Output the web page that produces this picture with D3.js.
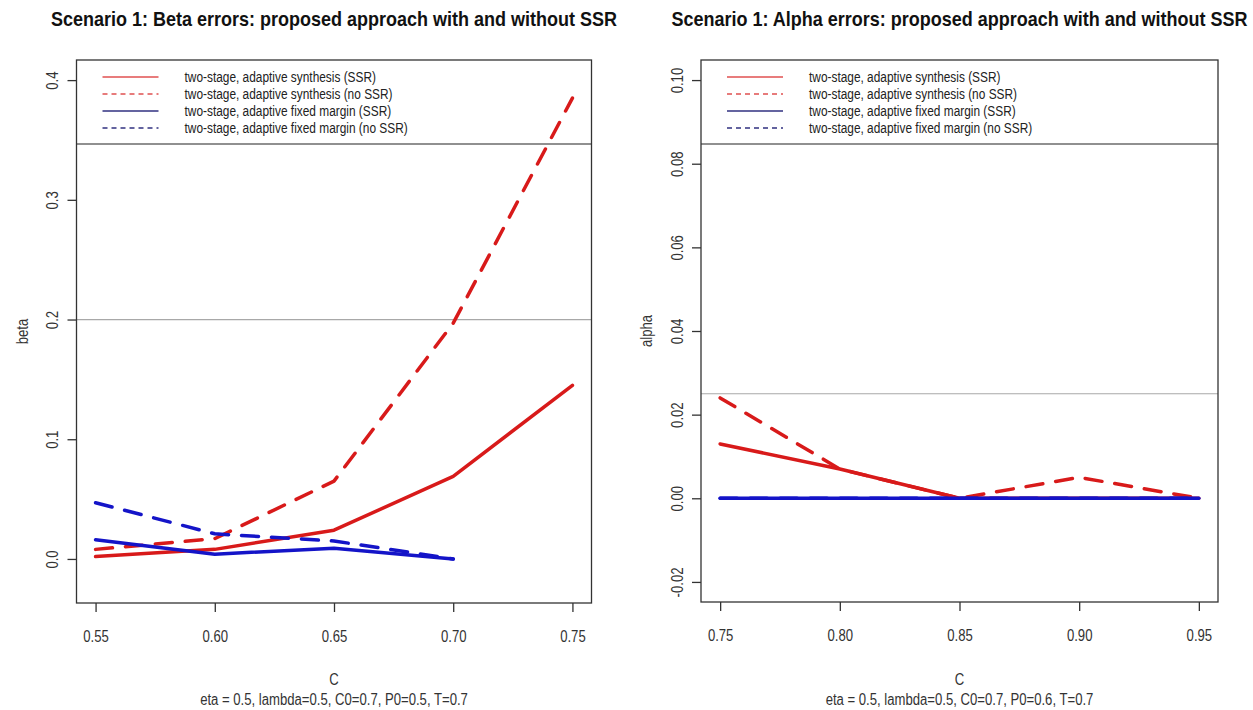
<!DOCTYPE html>
<html>
<head>
<meta charset="utf-8">
<script src="https://cdn.jsdelivr.net/npm/d3@7"></script>
<style>
  body { margin: 0; background: #fff; }
  svg text { font-family: "Liberation Sans", Arial, sans-serif; }
</style>
</head>
<body>
<svg id="chart" width="1253" height="710"></svg>
<script>
// ---- data ----
const betaC = [0.55, 0.60, 0.65, 0.70, 0.75]
const betaSynthSSR = [0.002, 0.008, 0.024, 0.069, 0.145]
const betaSynthNoSSR = [0.008, 0.017, 0.065, 0.197, 0.385]
const betaFixedSSR = [0.016, 0.004, 0.009, 0.000, null]
const betaFixedNoSSR = [0.047, 0.021, 0.015, 0.000, null]
const betaTicks = [0.0, 0.1, 0.2, 0.3, 0.4]
const betaLimits = [-0.02, 0.4]
const betaTarget = 0.2

const alphaC = [0.75, 0.80, 0.85, 0.90, 0.95]
const alphaSynthSSR = [0.013, 0.007, 0.000, 0.000, 0.000]
const alphaSynthNoSSR = [0.024, 0.007, 0.000, 0.005, 0.000]
const alphaFixedSSR = [0.000, 0.000, 0.000, 0.000, 0.000]
const alphaFixedNoSSR = [0.000, 0.000, 0.000, 0.000, 0.000]
const alphaTicks = [-0.02, 0.00, 0.02, 0.04, 0.06, 0.08, 0.10]
const alphaLimits = [-0.02, 0.1]
const alphaTarget = 0.025

const legendLabels = [
  'two-stage, adaptive synthesis (SSR)',
  'two-stage, adaptive synthesis (no SSR)',
  'two-stage, adaptive fixed margin (SSR)',
  'two-stage, adaptive fixed margin (no SSR)'
]
const seriesColors = ['#d81a1a', '#d81a1a', '#1414c8', '#1414c8']
const legendColors = ['#e05050', '#e05050', '#303080', '#303080']
const seriesDashed = [false, true, false, true]

const svg = d3.select('#chart')
const squeeze = 0.82   // the original font is a narrow one

function pad(lim) {
  var d = (lim[1] - lim[0]) * 0.04
  return [lim[0] - d, lim[1] + d]
}

function label(x, y, txt, size, opts) {
  opts = opts || {}
  var sx = opts.squeeze || squeeze
  var t = svg.append('text')
    .attr('transform', `translate(${x},${y})` + (opts.rotate ? ' rotate(-90)' : '') + ` scale(${sx},1)`)
    .attr('text-anchor', opts.anchor || 'middle')
    .attr('font-size', size + 'px')
    .attr('fill', opts.fill || '#111')
    .text(txt)
  if (opts.bold) t.attr('font-weight', 'bold')
  return t
}

function panel(p) {
  var x = d3.scaleLinear().domain(pad([p.cats[0], p.cats[p.cats.length - 1]])).range([p.left, p.right])
  var y = d3.scaleLinear().domain(pad(p.ylim)).range([p.bottom, p.top])
  var cx = (p.left + p.right) / 2, cy = (p.top + p.bottom) / 2

  // reference line
  svg.append('line')
    .attr('x1', p.left).attr('x2', p.right)
    .attr('y1', y(p.target)).attr('y2', y(p.target))
    .attr('stroke', '#a8a8a8').attr('stroke-width', 1.2)

  // series
  p.series.forEach(function (vals, i) {
    var line = d3.line()
      .defined(d => d != null)
      .x((d, j) => x(p.cats[j]))
      .y(d => y(d))
    svg.append('path')
      .attr('d', line(vals))
      .attr('fill', 'none')
      .attr('stroke', seriesColors[i])
      .attr('stroke-width', 3.5)
      .attr('stroke-linecap', 'round')
      .attr('stroke-linejoin', 'round')
      .attr('stroke-dasharray', seriesDashed[i] ? '17 13' : null)
  })

  // legend (its box runs past the plot edge and is clipped there)
  var lg = p.top
  svg.append('line')
    .attr('x1', p.left).attr('x2', p.right)
    .attr('y1', lg + 84).attr('y2', lg + 84)
    .attr('stroke', '#222').attr('stroke-width', 1.2)
  legendLabels.forEach(function (name, i) {
    var ry = lg + 17 + i * 17
    svg.append('line')
      .attr('x1', p.left + 26).attr('x2', p.left + 82)
      .attr('y1', ry).attr('y2', ry)
      .attr('stroke', legendColors[i]).attr('stroke-width', 1.3)
      .attr('stroke-dasharray', seriesDashed[i] ? '5 4' : null)
    label(p.left + 108, ry + 5, name, 14.5, {anchor: 'start', fill: '#222'})
  })

  // frame
  svg.append('rect')
    .attr('x', p.left).attr('y', p.top)
    .attr('width', p.right - p.left).attr('height', p.bottom - p.top)
    .attr('fill', 'none').attr('stroke', '#333').attr('stroke-width', 1.3)

  // axes
  var xAxis = svg.append('g')
    .attr('transform', `translate(0,${p.bottom})`)
    .call(d3.axisBottom(x).tickValues(p.cats).tickSize(9).tickFormat(d => d.toFixed(2)))
  xAxis.select('.domain').remove()
  xAxis.selectAll('line').attr('stroke', '#333').attr('stroke-width', 1.3)
  xAxis.selectAll('text')
    .attr('y', 0).attr('dy', 0)
    .attr('transform', `translate(0,39) scale(${squeeze},1)`)
    .attr('font-size', '16px').attr('fill', '#333')

  var yAxis = svg.append('g')
    .attr('transform', `translate(${p.left},0)`)
    .call(d3.axisLeft(y).tickValues(p.ticks).tickSize(9).tickFormat(d => d.toFixed(p.digits)))
  yAxis.select('.domain').remove()
  yAxis.selectAll('line').attr('stroke', '#333').attr('stroke-width', 1.3)
  yAxis.selectAll('text')
    .attr('x', 0).attr('y', 0).attr('dy', 0)
    .attr('text-anchor', 'middle')
    .attr('transform', `rotate(-90) translate(0,-18.5) scale(${squeeze},1)`)
    .attr('font-size', '16px').attr('fill', '#333')

  // titles
  label(cx, 26, p.title, 20, {bold: true, squeeze: 0.9})
  label(p.left - 49, cy, p.ylab, 16, {rotate: true, fill: '#333'})
  label(cx, 685, 'C', 16, {fill: '#333'})
  label(cx, 705, p.sub, 16, {fill: '#333'})
}

panel({
  left: 76.5, right: 591.5, top: 60, bottom: 603,
  cats: betaC, ylim: betaLimits, ticks: betaTicks, digits: 1, target: betaTarget,
  series: [betaSynthSSR, betaSynthNoSSR, betaFixedSSR, betaFixedNoSSR],
  title: 'Scenario 1: Beta errors: proposed approach with and without SSR',
  ylab: 'beta',
  sub: 'eta = 0.5, lambda=0.5, C0=0.7, P0=0.5, T=0.7'
})

panel({
  left: 701, right: 1218, top: 60, bottom: 602,
  cats: alphaC, ylim: alphaLimits, ticks: alphaTicks, digits: 2, target: alphaTarget,
  series: [alphaSynthSSR, alphaSynthNoSSR, alphaFixedSSR, alphaFixedNoSSR],
  title: 'Scenario 1: Alpha errors: proposed approach with and without SSR',
  ylab: 'alpha',
  sub: 'eta = 0.5, lambda=0.5, C0=0.7, P0=0.6, T=0.7'
})
</script>
</body>
</html>
